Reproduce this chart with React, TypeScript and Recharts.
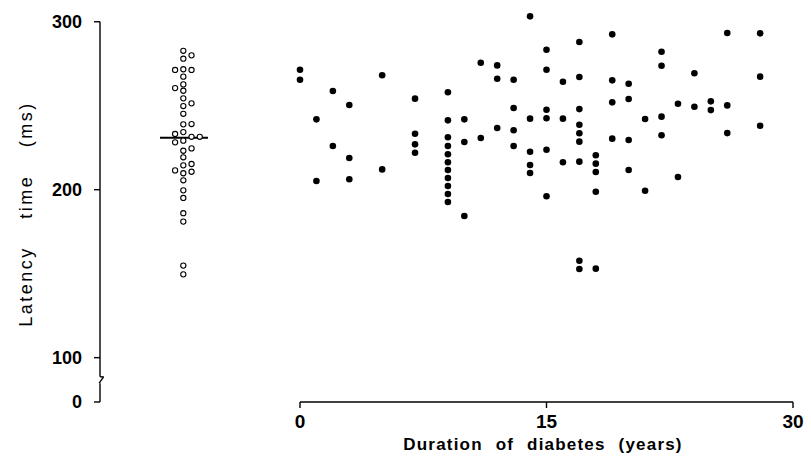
import React from 'react';
import { ScatterChart, Scatter, XAxis, YAxis, ReferenceLine, Label } from 'recharts';

const FONT = '"Liberation Sans", Arial, Helvetica, sans-serif';

// Diabetic patients: duration of diabetes (years) with the latency times (ms) measured at that duration
const diabetesYears = [0, 1, 2, 3, 5, 7, 9, 10, 11, 12, 13, 14, 15, 16, 17, 18, 19, 20, 21, 22, 23, 24, 25, 26, 28];
const diabetesLatencies = [
  [271.4, 265.5],
  [241.9, 205.2],
  [258.8, 226],
  [250.4, 218.9, 206.2],
  [268.1, 212.1],
  [254.2, 233.3, 227, 222],
  [258, 241.3, 231.2, 226, 221.1, 216.3, 211.7, 207, 202.2, 197.4, 192.7],
  [241.9, 228.4, 184.3],
  [275.6, 230.8],
  [274, 266.1, 236.7],
  [265.5, 248.6, 235.4, 226],
  [303.2, 242.3, 222.6, 214.7, 209.9],
  [283.3, 271.4, 247.6, 242.5, 223.8, 196.1],
  [264.3, 242.3, 216.3],
  [287.9, 267.1, 248, 238.7, 233.6, 228.6, 216.7, 157.7, 152.8],
  [220.5, 215.5, 210.5, 198.8, 153],
  [292.5, 265.1, 252, 230.4],
  [263.1, 254, 229.6, 211.7],
  [242.1, 199.4],
  [282.1, 273.8, 243.5, 232.4],
  [251.2, 207.6],
  [269.3, 249.4],
  [252.6, 247.4],
  [293.3, 250.2, 233.7],
  [293.1, 267.3, 238.1],
];

// Control subjects: latency times (ms) and their side-by-side slot in the dot column
const controlLatency = [
  282.7, 280, 278, 271.3, 271.7, 271.3, 267.3, 262.7, 260.5, 258.9, 254.4, 251.4, 249.8,
  245.2, 238.9, 239.1, 234.3, 233.2, 228.2, 229.2, 231.5, 231.5, 224.6, 223.2, 219.3,
  214.5, 215.3, 211.5, 209.8, 210.7, 205.6, 199.6, 195.1, 186, 181, 154.8, 149.6,
];
const controlSlot = [
  0, 1, 0, -1, 0, 1, 0, 0, -1, 0, 0, 1, 0,
  0, 0, 1, 0, -1, -1, 0, 1, 2, 1, 0, 0,
  0, 1, -1, 0, 1, 0, 0, 0, 0, 0, 0, 0,
];
const controlMedian = 231;

const xTicks = [0, 15, 30];
const yTicks = [100, 200, 300];

// axis geometry (in data units)
const CONTROL_POS = -7.1;
const SLOT_WIDTH = 0.5;
const X_MIN = -12.17;
const X_MAX = 30;
const Y_TOP = 305.8;
const Y_BREAK = 73.6; // bottom of broken axis, labelled "0"

const diabetesData = diabetesYears.flatMap((yr, i) =>
  diabetesLatencies[i].map((v) => ({ x: yr, y: v }))
);
const controlData = controlLatency.map((v, i) => ({
  x: CONTROL_POS + controlSlot[i] * SLOT_WIDTH,
  y: v,
}));

const FilledDot = (props: any) => (
  <circle cx={props.cx} cy={props.cy} r={3.3} fill="#000" />
);
const OpenDot = (props: any) => (
  <circle cx={props.cx} cy={props.cy} r={2.6} fill="#fff" stroke="#000" strokeWidth={1.1} />
);

const XTitle = () => (
  <text
    x={543}
    y={450}
    textAnchor="middle"
    fontFamily={FONT}
    fontSize={17}
    fontWeight={700}
    fill="#000"
    style={{ letterSpacing: '1.2px', wordSpacing: '7px' }}
  >
    Duration of diabetes (years)
  </text>
);

const YTitle = () => (
  <text
    x={32}
    y={214}
    transform="rotate(-90, 32, 214)"
    textAnchor="middle"
    fontFamily={FONT}
    fontSize={18}
    fill="#000"
    style={{ letterSpacing: '2.5px', wordSpacing: '20px' }}
  >
    Latency time (ms)
  </text>
);

const seg = (x1: number, y1: number, x2: number, y2: number, key: string, w = 1.4) => (
  <ReferenceLine
    key={key}
    segment={[{ x: x1, y: y1 }, { x: x2, y: y2 }]}
    stroke="#000"
    strokeWidth={w}
    ifOverflow="visible"
  />
);

export default function App() {
  return (
    <div style={{ position: 'absolute', left: 0, top: 0, width: 811, height: 468, background: '#fff' }}>
      <ScatterChart width={811} height={468} margin={{ top: 12, right: 18, bottom: 0, left: 0 }}>
        <XAxis
          dataKey="x"
          type="number"
          domain={[X_MIN, X_MAX]}
          ticks={xTicks}
          interval={0}
          axisLine={false}
          tickLine={{ stroke: '#000', strokeWidth: 1.4 }}
          tickSize={6}
          tickMargin={7}
          height={66}
          tick={{ fill: '#000', fontSize: 19, fontWeight: 700, fontFamily: FONT }}
          label={<Label content={XTitle} />}
        />
        <YAxis
          dataKey="y"
          type="number"
          domain={[Y_BREAK, Y_TOP]}
          ticks={[Y_BREAK, ...yTicks]}
          interval={0}
          tickFormatter={(v: number) => (v === Y_BREAK ? '0' : String(v))}
          axisLine={false}
          tickLine={{ stroke: '#000', strokeWidth: 1.4 }}
          tickSize={6}
          tickMargin={12}
          width={100}
          tick={{ fill: '#000', fontSize: 18, fontWeight: 700, fontFamily: FONT }}
          label={<Label content={YTitle} />}
        />
        {/* y axis with break */}
        {seg(X_MIN, 88.6, X_MIN, 300, 'ya')}
        {seg(X_MIN, 88.6, X_MIN + 0.22, 88.6, 'yb')}
        {seg(X_MIN + 0.22, 88.6, X_MIN - 0.05, 84.8, 'yc')}
        {seg(X_MIN, 84.8, X_MIN, Y_BREAK, 'yd')}
        {/* x axis line from 0 to 30 */}
        {seg(0, Y_BREAK, 30, Y_BREAK, 'xa')}
        {/* control median */}
        {seg(CONTROL_POS - 1.42, controlMedian, CONTROL_POS + 1.5, controlMedian, 'med', 2)}
        <Scatter data={controlData} shape={OpenDot} isAnimationActive={false} />
        <Scatter data={diabetesData} shape={FilledDot} isAnimationActive={false} />
      </ScatterChart>
    </div>
  );
}
